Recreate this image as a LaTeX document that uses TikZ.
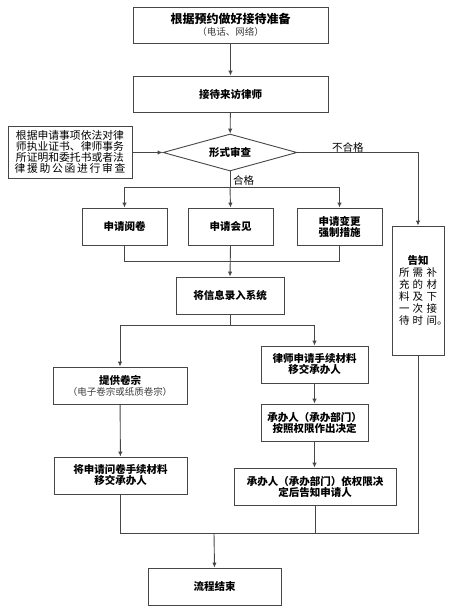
\documentclass[tikz,border=0pt]{standalone}
\usepackage{fontspec}
\setmainfont{Noto Sans CJK SC}
\usetikzlibrary{shapes.geometric,arrows.meta}
\definecolor{lc}{RGB}{70,70,70}
\definecolor{sub}{RGB}{60,60,60}
\tikzset{
  box/.style={draw=lc,line width=0.9pt,rectangle,inner sep=0pt,align=center,font=\fontsize{10.5}{13}\selectfont\bfseries},
  ln/.style={draw=lc,line width=0.9pt},
  arr/.style={ln,-{Latex[length=5pt,width=4.5pt]}},
  lbl/.style={font=\fontsize{10.5}{12}\selectfont,inner sep=0pt}
}
\begin{document}
\begin{tikzpicture}[x=1pt,y=-1pt]
\useasboundingbox (0,0) rectangle (450,614);
\node[box,minimum width=195pt,minimum height=36pt] (b1) at (230.5,25)
  {{\fontsize{12}{14}\selectfont 根据预约做好接待准备}\\[-1pt]{\fontsize{9.5}{11}\selectfont\mdseries\color{sub}（电话、网络）}};
\node[box,minimum width=195pt,minimum height=36pt] (b2) at (230.5,94) {接待来访律师};
\node[box,shape=diamond,aspect=3.6,minimum width=134pt,minimum height=37pt] (d) at (230,152.5) {形式审查};
\node[box,minimum width=124pt,minimum height=52pt,font=\fontsize{10.8}{11}\selectfont] (L) at (70,152)
  {根据申请事项依法对律\\师执业证书、律师事务\\所证明和委托书或者法\\\makebox[111pt][s]{律\hfill 援\hfill 助\hfill 公\hfill 函\hfill 进\hfill 行\hfill 审\hfill 查}};
\node[box,minimum width=85pt,minimum height=37pt] (r1) at (124.5,226.5) {申请阅卷};
\node[box,minimum width=85pt,minimum height=37pt] (r2) at (230.5,226.5) {申请会见};
\node[box,minimum width=85pt,minimum height=37pt] (r3) at (339.5,226.5) {申请变更\\[-2pt]强制措施};
\node[box,minimum width=52pt,minimum height=129pt,font=\fontsize{10.5}{12}\selectfont] (g) at (418,290.5)
  {{\bfseries 告知}\\\makebox[38pt][s]{所\hfill 需\hfill 补}\\\makebox[38pt][s]{充\hfill 的\hfill 材}\\\makebox[38pt][s]{料\hfill 及\hfill 下}\\\makebox[38pt][s]{一\hfill 次\hfill 接}\\\makebox[38pt][s]{待\hfill 时\hfill 间}\rlap{。}};
\node[box,minimum width=108pt,minimum height=37pt] (s) at (230,295.5) {将信息录入系统};
\node[box,minimum width=134pt,minimum height=37pt] (p1) at (120,385.5)
  {提供卷宗\\[-2pt]{\fontsize{9.5}{11}\selectfont\mdseries\color{sub}（电子卷宗或纸质卷宗）}};
\node[box,minimum width=133pt,minimum height=37pt] (p2) at (120.5,475.5) {将申请问卷手续材料\\[-2pt]移交承办人};
\node[box,minimum width=107pt,minimum height=37pt] (q1) at (314.5,364.5) {律师申请手续材料\\[-2pt]移交承办人};
\node[box,minimum width=107pt,minimum height=37pt] (q2) at (314.5,422.5) {承办人（承办部门）\\[-2pt]按照权限作出决定};
\node[box,minimum width=162pt,minimum height=37pt] (q3) at (315,486.5) {承办人（承办部门）依权限决\\[-2pt]定后告知申请人};
\node[box,minimum width=133pt,minimum height=37pt] (e) at (214.5,586.5) {流程结束};
% labels
\node[lbl,anchor=west] (ng) at (332,147) {不合格};
\node[lbl,anchor=west] (hg) at (233,180) {合格};
% coordinates
\coordinate (h1) at (230,187);
\coordinate (h2) at (230,261);
\coordinate (h3) at (230,325);
\coordinate (h4) at (214,533);
% connectors
\draw[arr] (b1) -- (b2);
\draw[arr] (b2) -- (d);
\draw[arr] (L.east |- d.west) -- (d.west);
\draw[arr] (d.east) -| (g.north);
\draw[ln] (d.south) -- (h1);
\draw[arr] (h1) -| (r1.north);
\draw[arr] (h1) -- (r2.north);
\draw[arr] (h1) -| (r3.north);
\draw[ln] (r1.south) |- (h2);
\draw[ln] (r3.south) |- (h2);
\draw[arr] (r2.south) -- (s.north);
\draw[ln] (s.south) -- (h3);
\draw[arr] (h3) -| (p1.north);
\draw[arr] (h3) -| (q1.north);
\draw[arr] (p1) -- (p2);
\draw[arr] (q1) -- (q2);
\draw[arr] (q2.south) -- (q2.south |- q3.north);
\draw[ln] (p2.south) |- (h4);
\draw[ln] (g.south) |- (h4);
\draw[ln] (q3.south) -- (q3.south |- h4);
\draw[arr] (h4) -- (e.north);
\end{tikzpicture}
\end{document}
